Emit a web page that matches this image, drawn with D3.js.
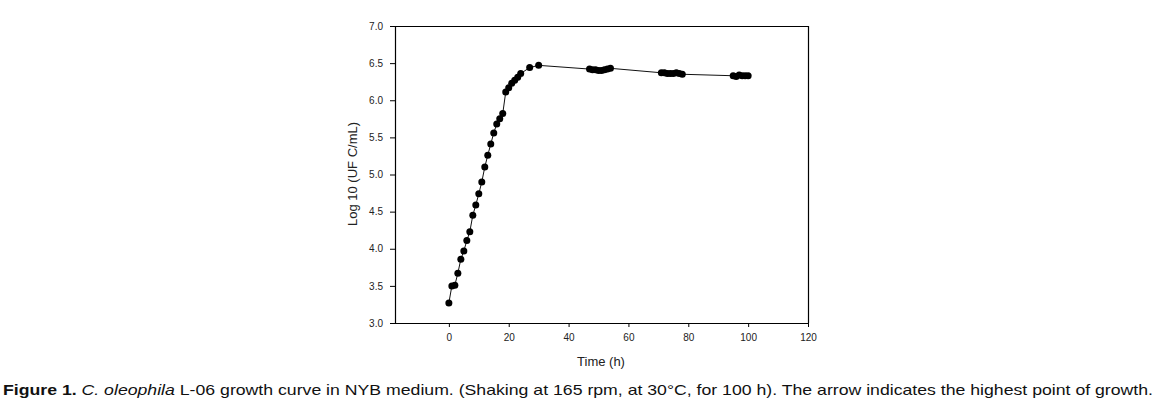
<!DOCTYPE html>
<html>
<head>
<meta charset="utf-8">
<script src="https://cdn.jsdelivr.net/npm/d3@7"></script>
<style>
	body { margin: 0; background: #fff; }
	svg { display: block; }
</style>
</head>
<body>
<div id="chart"></div>
<script>
// growth curve readings: time (h) and log10 UFC/mL
const hours = [
	0, 1, 2, 3, 4, 5, 6, 7, 8, 9, 10, 11, 12, 13, 14, 15, 16, 17, 18,
	19, 20, 21, 22, 23, 24, 27, 30,
	47, 48, 49, 50, 51, 52, 53, 54,
	71, 72, 73, 74, 75, 76, 77, 78,
	95, 96, 97, 98, 99, 100
];
const logUFC = [
	3.27, 3.50, 3.51, 3.67, 3.86, 3.97, 4.11, 4.23, 4.45, 4.59, 4.74, 4.90, 5.10, 5.26, 5.41, 5.56, 5.68, 5.75, 5.82,
	6.11, 6.17, 6.23, 6.27, 6.31, 6.36, 6.44, 6.47,
	6.42, 6.41, 6.41, 6.40, 6.40, 6.41, 6.42, 6.43,
	6.37, 6.37, 6.36, 6.36, 6.36, 6.37, 6.36, 6.35,
	6.33, 6.32, 6.34, 6.33, 6.33, 6.33
];
const xTicks = [0, 20, 40, 60, 80, 100, 120];
const yTicks = [3.0, 3.5, 4.0, 4.5, 5.0, 5.5, 6.0, 6.5, 7.0];

const w = 1161;
const h = 406;
const plotL = 395, plotR = 808, plotT = 26, plotB = 323;

const svg = d3.select("#chart").append("svg").attr("width", w).attr("height", h);

const xScale = d3.scaleLinear().domain([-18, 120]).range([plotL, plotR]);
const yScale = d3.scaleLinear().domain([3, 7]).range([plotB, plotT]);

const data = hours.map((t, i) => [t, logUFC[i]]);

// frame (top + right)
svg.append("path")
	.attr("d", `M${plotL},${plotT + 0.5}H${plotR + 0.5}V${plotB}`)
	.attr("fill", "none")
	.attr("stroke", "#000")
	.attr("stroke-width", 1.2);

const xAxis = d3.axisBottom(xScale).tickValues(xTicks).tickSize(4).tickPadding(7).tickFormat(d3.format("d"));
const yAxis = d3.axisLeft(yScale).tickValues(yTicks).tickSize(5).tickPadding(7).tickFormat(d3.format(".1f"));

svg.append("g")
	.attr("transform", "translate(0," + plotB + ")")
	.call(xAxis)
	.call((g) => g.select(".domain").attr("d", `M${plotL},0.5H${plotR + 0.5}`).attr("stroke-width", 1.2))
	.call((g) => g.selectAll("text").attr("font-size", 10).attr("fill", "#222"));

svg.append("g")
	.attr("transform", "translate(" + plotL + ",0)")
	.call(yAxis)
	.call((g) => g.select(".domain").attr("d", `M0.5,${plotT}V${plotB + 0.5}`).attr("stroke-width", 1.2))
	.call((g) => g.selectAll("text").attr("font-size", 10).attr("fill", "#222"));

svg.selectAll(".tick line").attr("stroke", "#000");
svg.selectAll("text").attr("font-family", "Liberation Sans, Arial, sans-serif");

// curve
const line = d3.line().x((d) => xScale(d[0])).y((d) => yScale(d[1]));
svg.append("path")
	.datum(data)
	.attr("d", line)
	.attr("fill", "none")
	.attr("stroke", "#111")
	.attr("stroke-width", 1);

svg.selectAll("circle")
	.data(data)
	.enter()
	.append("circle")
	.attr("cx", (d) => xScale(d[0]))
	.attr("cy", (d) => yScale(d[1]))
	.attr("r", 3.5)
	.attr("fill", "#000");

// axis titles
svg.append("text")
	.attr("x", 601)
	.attr("y", 366)
	.attr("text-anchor", "middle")
	.attr("font-family", "Liberation Sans, Arial, sans-serif")
	.attr("font-size", 13)
	.attr("fill", "#222")
	.text("Time (h)");

svg.append("text")
	.attr("transform", "translate(357,174) rotate(-90)")
	.attr("text-anchor", "middle")
	.attr("font-family", "Liberation Sans, Arial, sans-serif")
	.attr("font-size", 13)
	.attr("fill", "#222")
	.text("Log 10 (UF C/mL)");

// caption
const cap = svg.append("text")
	.attr("x", 3)
	.attr("y", 395)
	.attr("font-family", "Liberation Sans, Arial, sans-serif")
	.attr("font-size", 15)
	.attr("fill", "#111")
	.attr("textLength", 1150)
	.attr("lengthAdjust", "spacingAndGlyphs");
cap.append("tspan").attr("font-weight", "bold").text("Figure 1. ");
cap.append("tspan").attr("font-style", "italic").text("C. oleophila");
cap.append("tspan").text(" L-06 growth curve in NYB medium. (Shaking at 165 rpm, at 30\u00b0C, for 100 h). The arrow indicates the highest point of growth.");
</script>
</body>
</html>
